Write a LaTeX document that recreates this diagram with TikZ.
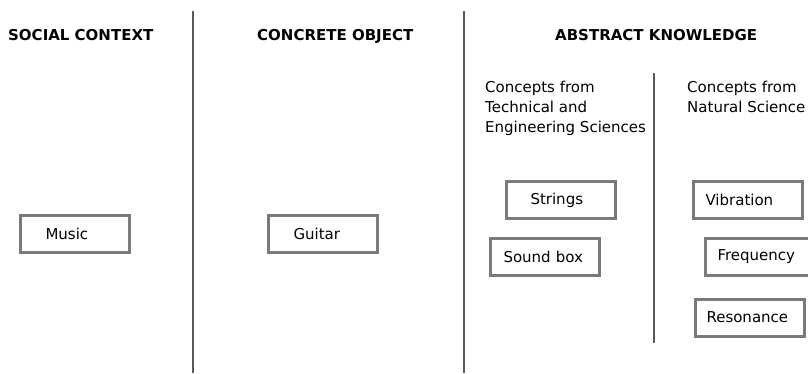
\documentclass[tikz,border=0pt]{standalone}
\usepackage{fontspec}
\setmainfont{DejaVu Sans}
\definecolor{boxgray}{HTML}{7A7A7A}
\definecolor{linegray}{HTML}{5A5A5A}
\begin{document}
\fontsize{15pt}{20pt}\selectfont
\begin{tikzpicture}[x=1pt, y=-1pt,
        box/.style={draw=boxgray, line width=3pt, anchor=west, minimum height=37pt,
            inner ysep=0pt, inner xsep=#1, text width=109pt-2*#1, align=left},
        head/.style={anchor=base west, inner sep=0pt, font=\bfseries},
        sub/.style={anchor=north west, inner sep=0pt, align=left}]
    \useasboundingbox (0,0) rectangle (808,373);

    % column dividers
    \foreach \x/\top/\bot in {193/11/373, 464/11/373, 654/73/343} {
            \draw[linegray, line width=1.5pt] (\x,\top) -- (\x,\bot);
        }

    \node[head] (social) at (8,40) {SOCIAL CONTEXT};
    \node[head] (concrete) at (257,40) {CONCRETE OBJECT};
    \node[head] (abstract) at (555,40) {ABSTRACT KNOWLEDGE};

    \node[sub] (technical) at (485,81) {Concepts from\\Technical and\\Engineering Sciences};
    \node[sub] (natural) at (687,81) {Concepts from\\Natural Science};

    \node[box=25pt] (music) at (19,234) {Music};
    \node[box=25pt] (guitar) at (267,234) {Guitar};

    \node[box=24pt] (strings) at (505,200) {Strings};
    \node[box=13pt] (soundbox) at (489,257) {Sound box};

    \node[box=12pt] (vibration) at (692,200) {Vibration};
    \node[box=12pt] (frequency) at (704,256.5) {Frequency};
    \node[box=11pt] (resonance) at (694,317.5) {Resonance};

\end{tikzpicture}
\end{document}
